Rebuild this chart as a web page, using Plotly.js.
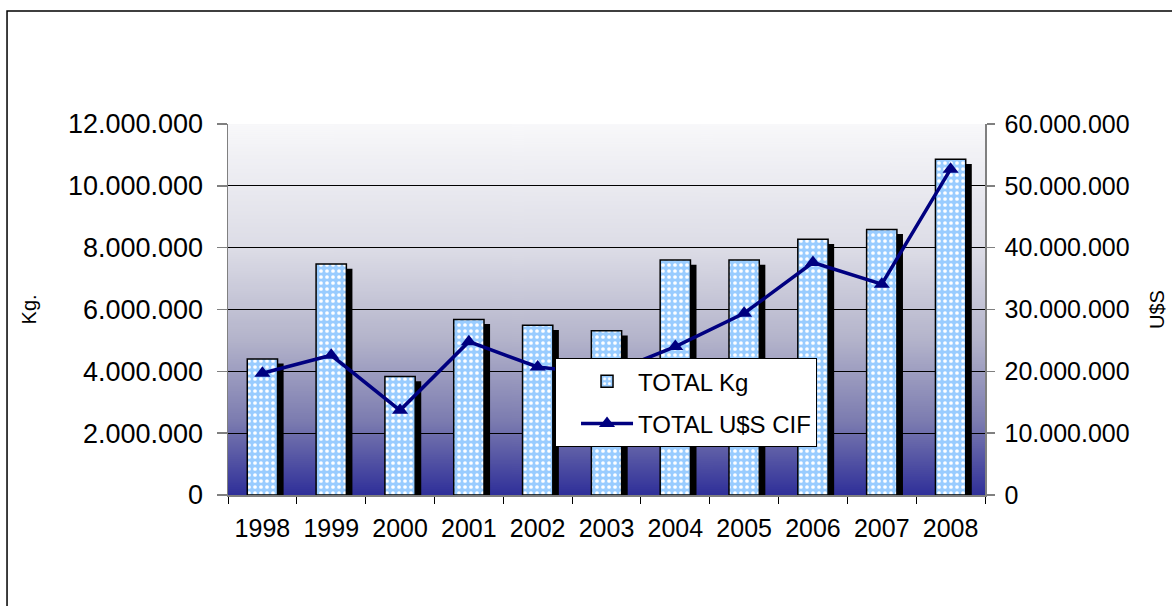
<!DOCTYPE html>
<html>
<head>
<meta charset="utf-8">
<script src="https://cdn.plot.ly/plotly-3.0.1.min.js"></script>
<style>html,body{margin:0;padding:0;background:#fff;}#chart{width:1172px;height:606px;}</style>
</head>
<body>
<div id="chart"></div>
<script>
// ---- data ----
const years = ['1998','1999','2000','2001','2002','2003','2004','2005','2006','2007','2008'];
const totalKg = [4400000, 7470000, 3830000, 5680000, 5490000, 5310000, 7600000, 7600000, 8270000, 8590000, 10860000];
const totalUsdCif = [19700000, 22600000, 13700000, 24800000, 20700000, 19500000, 24000000, 29400000, 37600000, 34100000, 52700000];
const kgTicks = [0, 2000000, 4000000, 6000000, 8000000, 10000000, 12000000];
const usdTicks = [0, 10000000, 20000000, 30000000, 40000000, 50000000, 60000000];

// ---- style ----
const FONT = 'Liberation Sans, Arial, sans-serif';
const barWidth = 0.44;
const shadowDx = 0.088;       // category units
const shadowDy = 150000;      // kg units (a few px)

// gradient background image
function gradientURL() {
  const c = document.createElement('canvas');
  c.width = 4; c.height = 372;
  const g = c.getContext('2d');
  const lg = g.createLinearGradient(0, 0, 0, c.height);
  lg.addColorStop(0, '#f8f8fa');
  lg.addColorStop(0.34, '#dcdce6');
  lg.addColorStop(0.58, '#b4b4cb');
  lg.addColorStop(0.8, '#7c7cb0');
  lg.addColorStop(1, '#2f2f99');
  g.fillStyle = lg;
  g.fillRect(0, 0, c.width, c.height);
  return c.toDataURL('image/png');
}

const boundaries = years.map((_, i) => i - 0.5).concat([years.length - 0.5]);

const traces = [
  {
    type: 'bar', x: years, y: totalKg.map(v => v - shadowDy),
    width: barWidth, offset: -barWidth / 2 + shadowDx,
    marker: {color: '#000000', line: {width: 0}},
    showlegend: false, hoverinfo: 'skip'
  },
  {
    type: 'bar', name: 'TOTAL Kg', x: years, y: totalKg, legendgroup: 'a',
    width: barWidth, offset: -barWidth / 2,
    marker: {
      color: '#99ccff',
      line: {color: '#000000', width: 1.5},
      pattern: {shape: '.', bgcolor: '#99ccff', fgcolor: '#ffffff', size: 6, solidity: 0.3, fillmode: 'replace'}
    }
  },
  {
    type: 'scatter', mode: 'lines+markers', name: 'TOTAL U$S CIF', legendgroup: 'b',
    x: years, y: totalUsdCif, yaxis: 'y2',
    line: {color: '#000080', width: 3.5},
    marker: {symbol: 'triangle-up', size: 14, color: '#000080'}
  }
];

const layout = {
  width: 1172, height: 606,
  margin: {l: 228, r: 187, t: 124, b: 111, autoexpand: false},
  paper_bgcolor: '#ffffff',
  plot_bgcolor: 'rgba(0,0,0,0)',
  separators: ',.',
  barmode: 'overlay',
  font: {family: FONT, color: '#000000'},
  xaxis: {
    type: 'category', range: [-0.5, years.length - 0.5],
    tickson: 'boundaries', ticks: 'outside', ticklen: 7, tickcolor: '#000000', tickwidth: 1,
    ticklabelstandoff: 10,
    showline: true, linecolor: '#808080', linewidth: 1.5,
    showgrid: false, zeroline: false,
    tickfont: {size: 25, family: FONT, color: '#000000'},
    fixedrange: true
  },
  xaxis2: {
    overlaying: 'x', anchor: 'y', side: 'bottom', type: 'linear',
    range: [-0.5, years.length - 0.5], tickmode: 'array', tickvals: boundaries,
    ticks: 'inside', ticklen: 8, tickcolor: '#000000', tickwidth: 1,
    showticklabels: false, showgrid: false, showline: false, zeroline: false
  },
  yaxis: {
    range: [0, 12000000], tickmode: 'array', tickvals: kgTicks, tickformat: ',d',
    ticks: 'outside', ticklen: 10, tickcolor: '#808080', tickwidth: 1.5,
    ticklabelstandoff: 8,
    showline: true, linecolor: '#808080', linewidth: 1.5,
    showgrid: true, gridcolor: '#000000', gridwidth: 1, zeroline: false,
    tickfont: {size: 27, family: FONT, color: '#000000'}
  },
  yaxis2: {
    overlaying: 'y', side: 'right', anchor: 'x',
    range: [0, 60000000], tickmode: 'array', tickvals: usdTicks, tickformat: ',d',
    ticks: 'outside', ticklen: 8, tickcolor: '#808080', tickwidth: 1.5,
    ticklabelstandoff: 5,
    showline: true, linecolor: '#808080', linewidth: 1.5,
    showgrid: false, zeroline: false,
    tickfont: {size: 25, family: FONT, color: '#000000'}
  },
  yaxis3: {
    overlaying: 'y', side: 'left', anchor: 'x',
    range: [0, 12000000], tickmode: 'array', tickvals: kgTicks,
    ticks: 'inside', ticklen: 9, tickcolor: '#808080', tickwidth: 1.5,
    showticklabels: false, showgrid: false, showline: false, zeroline: false
  },
  yaxis4: {
    overlaying: 'y', side: 'right', anchor: 'x',
    range: [0, 60000000], tickmode: 'array', tickvals: usdTicks,
    ticks: 'inside', ticklen: 8, tickcolor: '#808080', tickwidth: 1.5,
    showticklabels: false, showgrid: false, showline: false, zeroline: false
  },
  legend: {
    x: 0.432, y: 0.369, xanchor: 'left', yanchor: 'top',
    bgcolor: '#ffffff', bordercolor: '#000000', borderwidth: 1,
    font: {size: 24, family: FONT, color: '#000000'},
    traceorder: 'grouped', tracegroupgap: 8,
    indentation: 20,
    itemwidth: 52, entrywidth: 271, entrywidthmode: 'pixels'
  },
  annotations: [
    {text: 'Kg.', xref: 'paper', yref: 'paper', x: -0.263, y: 0.5, textangle: -90,
     xanchor: 'center', yanchor: 'middle',
     showarrow: false, font: {size: 20, family: FONT, color: '#000000'}},
    {text: 'U$S', xref: 'paper', yref: 'paper', x: 1.2265, y: 0.5, textangle: -90,
     xanchor: 'center', yanchor: 'middle',
     showarrow: false, font: {size: 20, family: FONT, color: '#000000'}}
  ],
  shapes: [
    {type: 'rect', xref: 'paper', yref: 'paper', x0: -0.2919, x1: 1.6, y0: -0.6, y1: 1.3046,
     line: {color: '#000000', width: 1.5}, fillcolor: 'rgba(0,0,0,0)', layer: 'below'}
  ],
  images: [
    {source: gradientURL(), xref: 'paper', yref: 'paper', x: 0, y: 1, sizex: 1, sizey: 1,
     sizing: 'stretch', xanchor: 'left', yanchor: 'top', layer: 'below'}
  ]
};

Plotly.newPlot('chart', traces, layout, {displayModeBar: false, staticPlot: true});
</script>
</body>
</html>
